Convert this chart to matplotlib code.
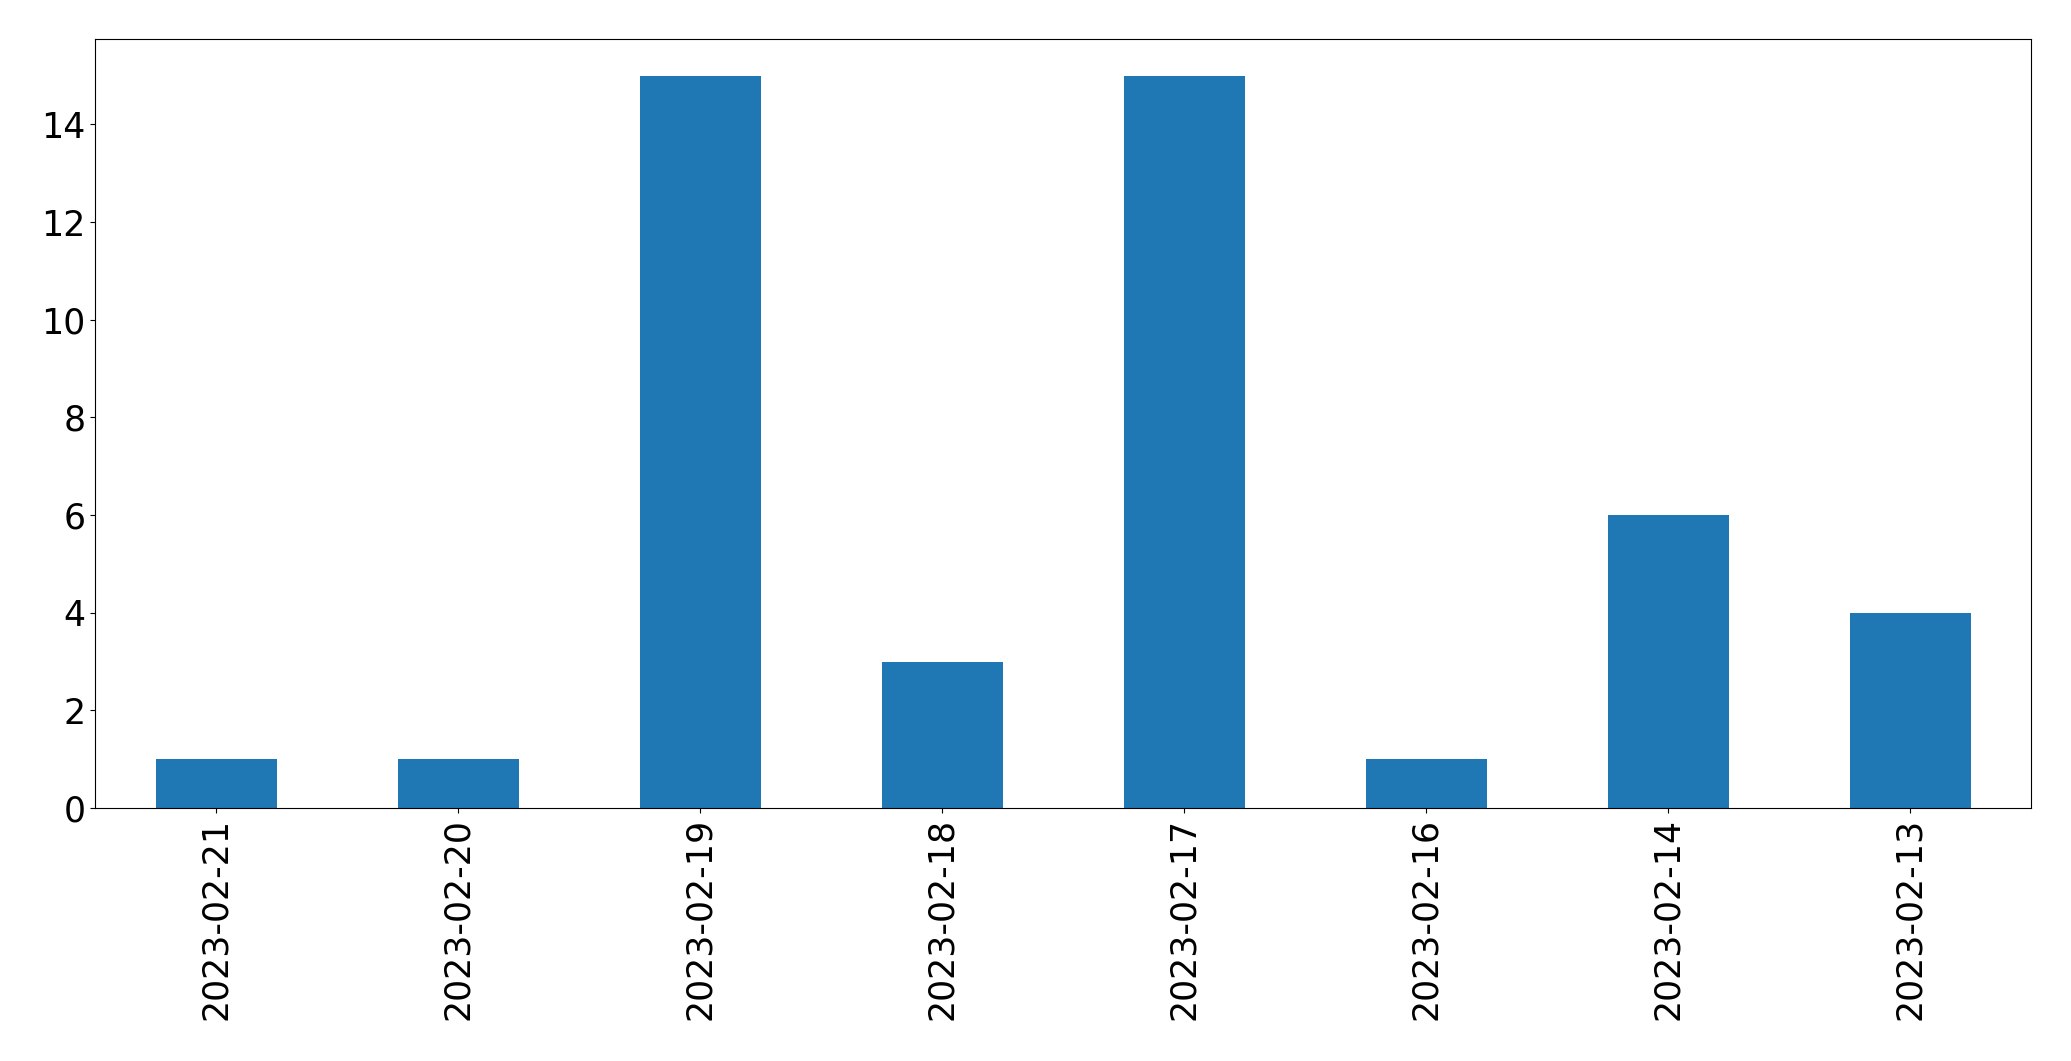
import matplotlib
matplotlib.use("Agg")
import matplotlib.pyplot as plt

# data
dates = ["2023-02-21", "2023-02-20", "2023-02-19", "2023-02-18",
         "2023-02-17", "2023-02-16", "2023-02-14", "2023-02-13"]
counts = [1, 1, 15, 3, 15, 1, 6, 4]

plt.rcParams["font.size"] = 25

fig = plt.figure(figsize=(20.71, 10.6105), dpi=100)
ax = fig.add_axes([95 / 2071, 1 - 808 / 1061, (2031 - 95) / 2071, (808 - 39) / 1061])

x = range(len(dates))
ax.bar(x, counts, width=0.5, color="#1f77b4")
ax.set_xticks(list(x))
ax.set_xticklabels(dates, rotation=90)
ax.set_xlim(-0.5, len(dates) - 0.5)
ax.set_ylim(0, 15.75)

fig.savefig("out.png", dpi=100)
